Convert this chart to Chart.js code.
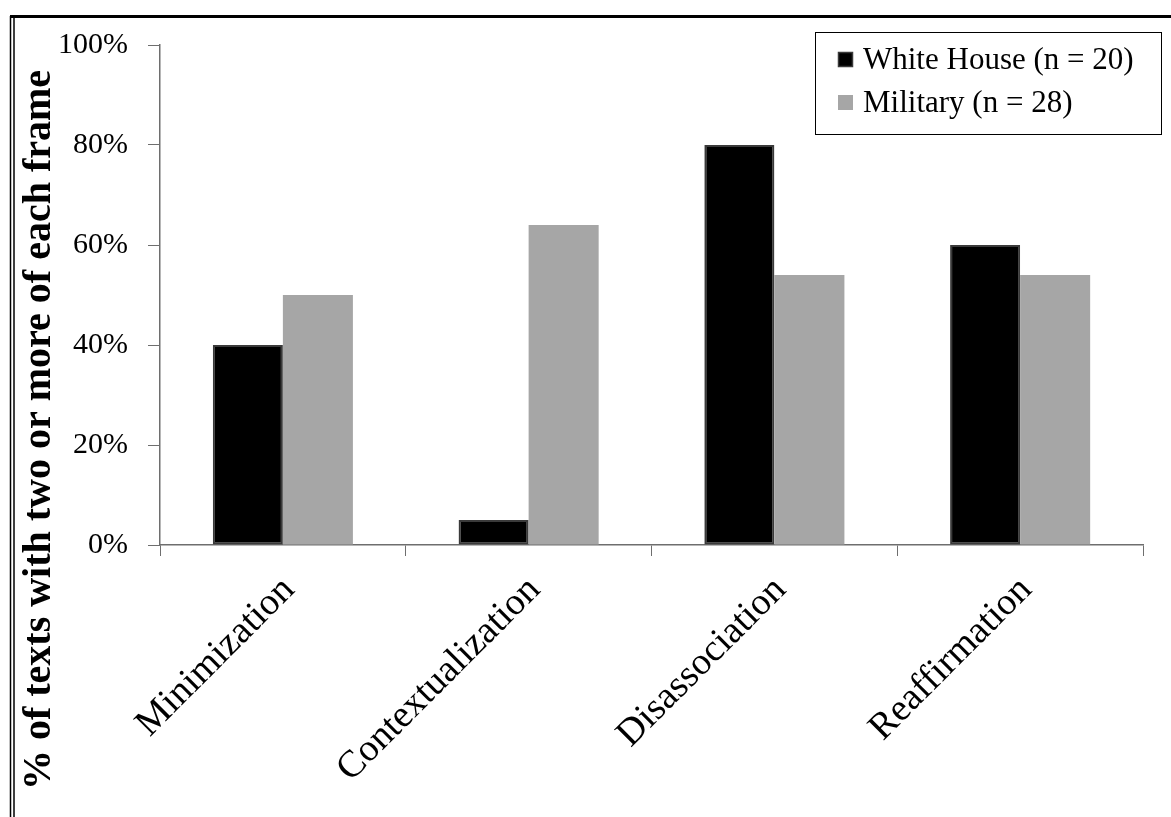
<!DOCTYPE html>
<html>
<head>
<meta charset="utf-8">
<script src="https://cdn.jsdelivr.net/npm/chart.js@4/dist/chart.umd.min.js"></script>
<style>
  html, body { margin: 0; padding: 0; background: #fff; }
  #wrap { width: 1171px; height: 817px; position: relative; }
</style>
</head>
<body>
<div id="wrap"><canvas id="c" width="1171" height="817"></canvas></div>
<script>
const categories = ['Minimization', 'Contextualization', 'Disassociation', 'Reaffirmation'];
const whiteHouseValues = [40, 5, 80, 60];
const militaryValues = [50, 64, 54, 54];
const seriesLabels = ['White House (n = 20)', 'Military (n = 28)'];
const yAxisTitle = '% of texts with two or more of each frame';

const SERIF = "'Liberation Serif', 'Times New Roman', serif";

const framePlugin = {
  id: 'frame',
  beforeDraw(chart) {
    const ctx = chart.ctx;
    ctx.save();
    ctx.fillStyle = '#fff';
    ctx.fillRect(0, 0, chart.width, chart.height);
    ctx.strokeStyle = '#000';
    ctx.lineWidth = 3;
    ctx.beginPath();
    ctx.moveTo(10, 16.5);
    ctx.lineTo(chart.width, 16.5);
    ctx.stroke();
    ctx.lineWidth = 1.5;
    ctx.beginPath();
    ctx.moveTo(10.5, 16);
    ctx.lineTo(10.5, chart.height);
    ctx.moveTo(14, 16);
    ctx.lineTo(14, chart.height);
    ctx.stroke();
    ctx.restore();
  }
};

const titleLegendPlugin = {
  id: 'titleLegend',
  afterDraw(chart) {
    const ctx = chart.ctx;
    ctx.save();
    // y axis title
    ctx.translate(40, 430);
    ctx.rotate(-Math.PI / 2);
    ctx.font = "bold 40px " + SERIF;
    ctx.fillStyle = '#000';
    ctx.textAlign = 'center';
    ctx.textBaseline = 'middle';
    ctx.fillText(yAxisTitle, 0, 0);
    ctx.restore();

    // legend box
    ctx.save();
    ctx.fillStyle = '#fff';
    ctx.fillRect(815.5, 32.5, 346, 102);
    ctx.strokeStyle = '#000';
    ctx.lineWidth = 1;
    ctx.strokeRect(815.5, 32.5, 346, 102);
    ctx.font = "31px " + SERIF;
    ctx.textBaseline = 'middle';
    ctx.textAlign = 'left';
    const rows = [60, 103];
    chart.data.datasets.forEach((ds, i) => {
      const y = rows[i];
      ctx.fillStyle = ds.backgroundColor;
      ctx.fillRect(838, y - 8, 15, 15);
      if (ds.borderWidth) {
        ctx.strokeStyle = ds.borderColor;
        ctx.lineWidth = 1.5;
        ctx.strokeRect(838.5, y - 7.5, 14, 14);
      }
      ctx.fillStyle = '#000';
      ctx.fillText(ds.label, 863, y + 1);
    });
    ctx.restore();
  }
};

new Chart(document.getElementById('c'), {
  type: 'bar',
  data: {
    labels: categories,
    datasets: [
      {
        label: seriesLabels[0],
        data: whiteHouseValues,
        backgroundColor: '#000000',
        borderColor: '#3a3a3a',
        borderWidth: 2,
        borderSkipped: false
      },
      {
        label: seriesLabels[1],
        data: militaryValues,
        backgroundColor: '#a6a6a6',
        borderColor: '#a6a6a6',
        borderWidth: 0
      }
    ]
  },
  options: {
    responsive: false,
    animation: false,
    devicePixelRatio: 1,
    categoryPercentage: 0.57,
    barPercentage: 1,
    layout: { padding: { top: 45, right: 28, left: 0, bottom: 0 } },
    plugins: {
      legend: { display: false },
      title: { display: false },
      tooltip: { enabled: false }
    },
    scales: {
      x: {
        grid: {
          display: true,
          drawOnChartArea: false,
          drawTicks: true,
          tickLength: 11,
          color: '#6e6e6e',
          offset: true
        },
        border: { display: true, color: '#6e6e6e', width: 1.5 },
        ticks: {
          autoSkip: false,
          maxRotation: 45,
          minRotation: 45,
          padding: 12,
          labelOffset: 6,
          color: '#000',
          font: { family: SERIF, size: 38 }
        },
        afterFit(scale) { scale.height = 817 - 545; }
      },
      y: {
        min: 0,
        max: 100,
        ticks: {
          stepSize: 20,
          padding: 20,
          color: '#000',
          font: { family: SERIF, size: 30 },
          callback: (v) => v + '%'
        },
        grid: {
          display: true,
          drawOnChartArea: false,
          drawTicks: true,
          tickLength: 12,
          color: '#6e6e6e'
        },
        border: { display: true, color: '#6e6e6e', width: 1.5 },
        afterFit(scale) { scale.width = 160; }
      }
    }
  },
  plugins: [framePlugin, titleLegendPlugin]
});
</script>
</body>
</html>
